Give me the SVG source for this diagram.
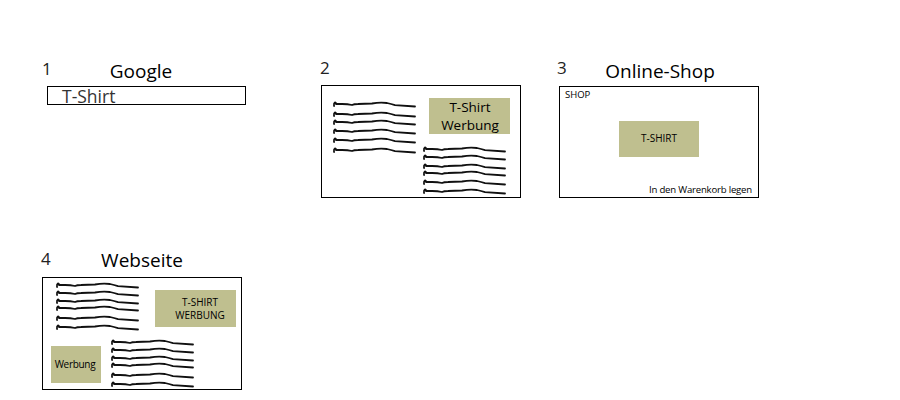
<svg xmlns="http://www.w3.org/2000/svg" xmlns:xlink="http://www.w3.org/1999/xlink" width="900" height="400" viewBox="0 0 900 400">
<style>
.t{font-family:"Open Sans","Noto Sans",sans-serif;fill:#000}
.num{font-size:17px;fill:#222}
.title{font-size:19px;text-anchor:middle}
.frame{fill:#fff;stroke:#000;stroke-width:1}
.ad{fill:#bfbf8f}
.s{font-size:9.5px}
.m{font-size:10px;text-anchor:middle}
.sq{fill:none;stroke:#111;stroke-width:1.8;stroke-linecap:round;stroke-linejoin:round}
</style>
<defs>
<path id="sq" class="sq" d="M0,2 C-0.5,-2 2,-2.5 2,0 L8,0 Q14,0 18,1 Q20,0 24,0 L38,-0.5 Q46,-2 53,-1 Q57,0 61,1.2 L81,2.5"/>
</defs>
<rect width="900" height="400" fill="#fff"/>
<g id="panel1">
<text class="t num" x="42" y="75">1</text>
<text class="t title" x="141" y="78">Google</text>
<rect class="frame" x="47.5" y="86.5" width="198" height="18"/>
<text class="t" x="62" y="103" font-size="17.5" style="fill:#333">T-Shirt</text>
</g>
<g id="panel2">
<text class="t num" x="320" y="74">2</text>
<rect class="frame" x="321.5" y="85.5" width="199" height="112"/>
<g>
<use xlink:href="#sq" x="334" y="104"/>
<use xlink:href="#sq" x="334" y="114"/>
<use xlink:href="#sq" x="334" y="122"/>
<use xlink:href="#sq" x="334" y="131"/>
<use xlink:href="#sq" x="334" y="140"/>
<use xlink:href="#sq" x="334" y="150"/>
<use xlink:href="#sq" x="424" y="149"/>
<use xlink:href="#sq" x="424" y="157"/>
<use xlink:href="#sq" x="424" y="166"/>
<use xlink:href="#sq" x="424" y="173"/>
<use xlink:href="#sq" x="424" y="182"/>
<use xlink:href="#sq" x="424" y="191"/>
</g>
<rect class="ad" x="429" y="98" width="81" height="36"/>
<text class="t" x="470" y="112" font-size="13.5" text-anchor="middle">T-Shirt</text>
<text class="t" x="470" y="130" font-size="13.5" text-anchor="middle">Werbung</text>
</g>
<g id="panel3">
<text class="t num" x="557" y="74">3</text>
<text class="t title" x="660" y="78">Online-Shop</text>
<rect class="frame" x="559.5" y="86.5" width="199" height="111"/>
<text class="t s" x="565" y="98">SHOP</text>
<rect class="ad" x="619" y="121" width="80" height="36"/>
<text class="t m" x="659" y="142">T-SHIRT</text>
<text class="t" x="752" y="193" font-size="9.6" letter-spacing="-0.2" text-anchor="end">In den Warenkorb legen</text>
</g>
<g id="panel4">
<text class="t num" x="41" y="265">4</text>
<text class="t title" x="142" y="267">Webseite</text>
<rect class="frame" x="42.5" y="277.5" width="199" height="112"/>
<g>
<use xlink:href="#sq" x="57" y="285"/>
<use xlink:href="#sq" x="57" y="293"/>
<use xlink:href="#sq" x="57" y="301"/>
<use xlink:href="#sq" x="57" y="308"/>
<use xlink:href="#sq" x="57" y="318"/>
<use xlink:href="#sq" x="57" y="327"/>
<use xlink:href="#sq" x="112" y="342"/>
<use xlink:href="#sq" x="112" y="350"/>
<use xlink:href="#sq" x="112" y="358"/>
<use xlink:href="#sq" x="112" y="365"/>
<use xlink:href="#sq" x="112" y="375"/>
<use xlink:href="#sq" x="112" y="384"/>
</g>
<rect class="ad" x="155" y="290" width="81" height="37"/>
<text class="t m" x="200" y="306">T-SHIRT</text>
<text class="t m" x="200" y="319">WERBUNG</text>
<rect class="ad" x="51" y="346" width="50" height="37"/>
<text class="t m" x="75" y="368" letter-spacing="-0.3">Werbung</text>
</g>
</svg>
